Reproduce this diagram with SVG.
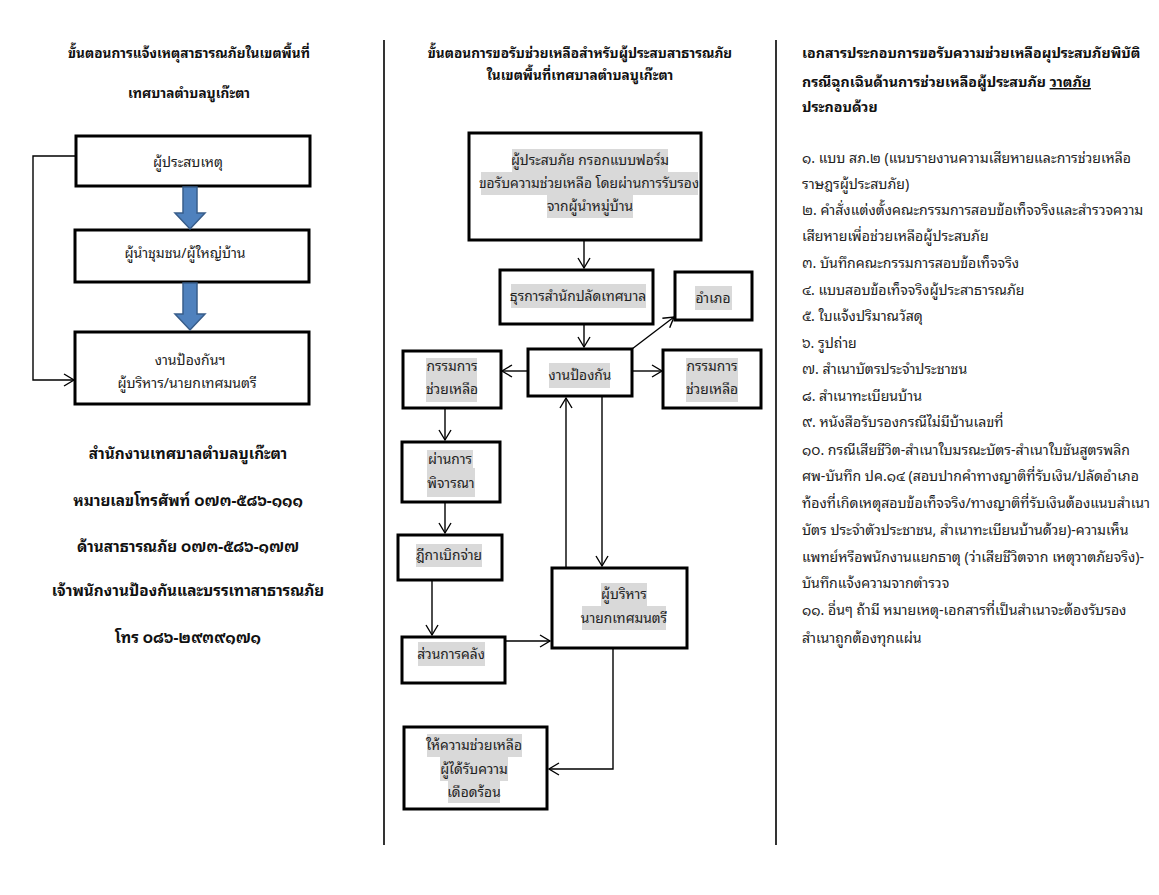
<svg xmlns="http://www.w3.org/2000/svg" width="1159" height="895" viewBox="0 0 1159 895">
<style>
text{font-family:"Noto Sans Thai Looped","Noto Sans Thai","Noto Sans","Liberation Sans",sans-serif;fill:#222}
.t{font-size:13.6px;font-weight:bold;text-anchor:middle;fill:#111}
.t2{font-size:15.3px;font-weight:bold;text-anchor:middle;fill:#111}
.b{font-size:14px;text-anchor:middle}
.m{font-size:13.8px;text-anchor:middle}
.r{font-size:14.1px}
.rh{font-size:14.2px;font-weight:bold;fill:#111}
.box{fill:#fff;stroke:#000;stroke-width:3}
.hl{fill:#d9d9d9}
.c{fill:none;stroke:#000;stroke-width:1.4}
.blue{fill:#4f81bd;stroke:#385d8a;stroke-width:1.5}
.div{stroke:#000;stroke-width:1.6}
</style>
<defs>
<marker id="a" markerUnits="userSpaceOnUse" markerWidth="14" markerHeight="14" refX="11" refY="7" orient="auto">
<path d="M1,1 L11,7 L1,13" fill="none" stroke="#000" stroke-width="1.4"/>
</marker>
</defs>
<rect width="1159" height="895" fill="#fff"/>
<line class="div" x1="384" y1="40" x2="384" y2="845"/>
<line class="div" x1="776" y1="40" x2="776" y2="845"/>

<!-- Left column -->
<text class="t" x="189" y="58">ขั้นตอนการแจ้งเหตุสาธารณภัยในเขตพื้นที่</text>
<text class="t" x="189" y="98">เทศบาลตำบลบูเก๊ะตา</text>
<g id="l1"><rect class="box" x="76" y="136" width="234" height="50"/><text class="b" x="188" y="167">ผู้ประสบเหตุ</text></g>
<g id="l2"><rect class="box" x="75" y="230" width="234" height="52"/><text class="b" x="185" y="258">ผู้นำชุมชน/ผู้ใหญ่บ้าน</text></g>
<g id="l3"><rect class="box" x="75" y="332" width="234" height="72"/><text class="b" x="190" y="365">งานป้องกันฯ</text><text class="b" x="187" y="388">ผู้บริหาร/นายกเทศมนตรี</text></g>
<g id="lconn">
<path class="blue" d="M183,187 L197,187 L197,213 L205,213 L190,229 L175,213 L183,213 Z"/>
<path class="blue" d="M183,283 L197,283 L197,314 L205,314 L190,330 L175,314 L183,314 Z"/>
<path class="c" d="M76,156 L33,156 L33,380 L74,380" marker-end="url(#a)"/>
</g>
<g id="lcontact">
<text class="t2" x="188" y="459">สำนักงานเทศบาลตำบลบูเก๊ะตา</text>
<text class="t2" x="188" y="506">หมายเลขโทรศัพท์ ๐๗๓-๕๘๖-๑๑๑</text>
<text class="t2" x="188" y="552">ด้านสาธารณภัย ๐๗๓-๕๘๖-๑๗๗</text>
<text class="t2" x="188" y="596">เจ้าพนักงานป้องกันและบรรเทาสาธารณภัย</text>
<text class="t2" x="188" y="643">โทร ๐๘๖-๒๙๓๙๑๗๑</text>
</g>

<!-- Middle column -->
<text class="t" x="580" y="58">ขั้นตอนการขอรับช่วยเหลือสำหรับผู้ประสบสาธารณภัย</text>
<text class="t" x="580" y="80">ในเขตพื้นที่เทศบาลตำบลบูเก๊ะตา</text>

<g id="mconn">
<path class="c" d="M584,240 L584,268" marker-end="url(#a)"/>
<path class="c" d="M584,324 L584,347" marker-end="url(#a)"/>
<path class="c" d="M632,349 L674,317" marker-end="url(#a)"/>
<path class="c" d="M528,371 L502,371" marker-end="url(#a)"/>
<path class="c" d="M632,371 L662,371" marker-end="url(#a)"/>
<path class="c" d="M445,408 L445,440" marker-end="url(#a)"/>
<path class="c" d="M445,502 L445,533" marker-end="url(#a)"/>
<path class="c" d="M432,580 L432,635" marker-end="url(#a)"/>
<path class="c" d="M505,641 L550,641" marker-end="url(#a)"/>
<path class="c" d="M566,568 L566,398" marker-end="url(#a)"/>
<path class="c" d="M602,396 L602,566" marker-end="url(#a)"/>
<path class="c" d="M613,648 L613,769 L549,769" marker-end="url(#a)"/>
</g>

<g id="mA"><rect class="box" x="469" y="133" width="232" height="107"/>
<rect class="hl" x="512" y="149" width="156" height="23"/><rect class="hl" x="481" y="172" width="217" height="23"/><rect class="hl" x="547" y="195" width="86" height="23"/>
<text class="m" x="590" y="165">ผู้ประสบภัย กรอกแบบฟอร์ม</text><text class="m" x="589" y="188">ขอรับความช่วยเหลือ โดยผ่านการรับรอง</text><text class="m" x="590" y="211">จากผู้นำหมู่บ้าน</text></g>
<g id="mB"><rect class="box" x="500" y="270" width="153" height="54"/><rect class="hl" x="511" y="284" width="135" height="24"/><text class="m" x="578" y="301">ธุรการสำนักปลัดเทศบาล</text></g>
<g id="mD"><rect class="box" x="675" y="272" width="77" height="48"/><rect class="hl" x="695" y="286" width="37" height="24"/><text class="m" x="713" y="303">อำเภอ</text></g>
<g id="mC"><rect class="box" x="528" y="349" width="104" height="47"/><rect class="hl" x="549" y="363" width="61" height="25"/><text class="m" x="580" y="380">งานป้องกัน</text></g>
<g id="mL"><rect class="box" x="403" y="351" width="98" height="57"/><rect class="hl" x="426" y="358" width="51" height="44"/><text class="m" x="452" y="371">กรรมการ</text><text class="m" x="452" y="394">ช่วยเหลือ</text></g>
<g id="mR"><rect class="box" x="663" y="350" width="98" height="58"/><rect class="hl" x="686" y="358" width="52" height="44"/><text class="m" x="712" y="371">กรรมการ</text><text class="m" x="712" y="394">ช่วยเหลือ</text></g>
<g id="mP"><rect class="box" x="402" y="442" width="98" height="60"/><rect class="hl" x="427" y="450" width="46" height="18"/><rect class="hl" x="427" y="468" width="48" height="29"/><text class="m" x="450" y="464">ผ่านการ</text><text class="m" x="451" y="488">พิจารณา</text></g>
<g id="mQ"><rect class="box" x="398" y="535" width="104" height="45"/><rect class="hl" x="416" y="544" width="66" height="23"/><text class="m" x="449" y="560">ฎีกาเบิกจ่าย</text></g>
<g id="mS"><rect class="box" x="402" y="637" width="103" height="46"/><rect class="hl" x="418" y="642" width="67" height="24"/><text class="m" x="451" y="659">ส่วนการคลัง</text></g>
<g id="mE"><rect class="box" x="552" y="568" width="135" height="80"/><rect class="hl" x="601" y="583" width="46" height="23"/><rect class="hl" x="582" y="606" width="84" height="24"/><text class="m" x="624" y="599">ผู้บริหาร</text><text class="m" x="624" y="623">นายกเทศมนตรี</text></g>
<g id="mF"><rect class="box" x="404" y="727" width="143" height="82"/><rect class="hl" x="427" y="734" width="95" height="23"/><rect class="hl" x="440" y="757" width="68" height="24"/><rect class="hl" x="448" y="781" width="52" height="22"/><text class="m" x="474" y="750">ให้ความช่วยเหลือ</text><text class="m" x="474" y="774">ผู้ได้รับความ</text><text class="m" x="474" y="797">เดือดร้อน</text></g>

<!-- Right column -->
<g id="rtext">
<text class="rh" x="802" y="58">เอกสารประกอบการขอรับความช่วยเหลือผุประสบภัยพิบัติ</text>
<text class="rh" x="802" y="87">กรณีฉุกเฉินด้านการช่วยเหลือผู้ประสบภัย <tspan text-decoration="underline">วาตภัย</tspan></text>
<text class="rh" x="802" y="112">ประกอบด้วย</text>
<text class="r" x="802" y="163">๑. แบบ สภ.๒ (แนบรายงานความเสียหายและการช่วยเหลือ</text>
<text class="r" x="802" y="189">ราษฎรผู้ประสบภัย)</text>
<text class="r" x="802" y="215">๒. คำสั่งแต่งตั้งคณะกรรมการสอบข้อเท็จจริงและสำรวจความ</text>
<text class="r" x="802" y="241">เสียหายเพื่อช่วยเหลือผู้ประสบภัย</text>
<text class="r" x="802" y="268">๓. บันทึกคณะกรรมการสอบข้อเท็จจริง</text>
<text class="r" x="802" y="295">๔. แบบสอบข้อเท็จจริงผู้ประสาธารณภัย</text>
<text class="r" x="802" y="321">๕. ใบแจ้งปริมาณวัสดุ</text>
<text class="r" x="802" y="348">๖. รูปถ่าย</text>
<text class="r" x="802" y="374">๗. สำเนาบัตรประจำประชาชน</text>
<text class="r" x="802" y="401">๘. สำเนาทะเบียนบ้าน</text>
<text class="r" x="802" y="427">๙. หนังสือรับรองกรณีไม่มีบ้านเลขที่</text>
<text class="r" x="802" y="455">๑๐. กรณีเสียชีวิต-สำเนาใบมรณะบัตร-สำเนาใบชันสูตรพลิก</text>
<text class="r" x="802" y="481">ศพ-บันทึก ปค.๑๔ (สอบปากคำทางญาติที่รับเงิน/ปลัดอำเภอ</text>
<text class="r" x="802" y="508">ท้องที่เกิดเหตุสอบข้อเท็จจริง/ทางญาติที่รับเงินต้องแนบสำเนา</text>
<text class="r" x="802" y="535">บัตร ประจำตัวประชาชน, สำเนาทะเบียนบ้านด้วย)-ความเห็น</text>
<text class="r" x="802" y="562">แพทย์หรือพนักงานแยกธาตุ (ว่าเสียชีวิตจาก เหตุวาตภัยจริง)-</text>
<text class="r" x="802" y="588">บันทึกแจ้งความจากตำรวจ</text>
<text class="r" x="802" y="615">๑๑. อื่นๆ ถ้ามี หมายเหตุ-เอกสารที่เป็นสำเนาจะต้องรับรอง</text>
<text class="r" x="802" y="643">สำเนาถูกต้องทุกแผ่น</text>
</g>
</svg>
